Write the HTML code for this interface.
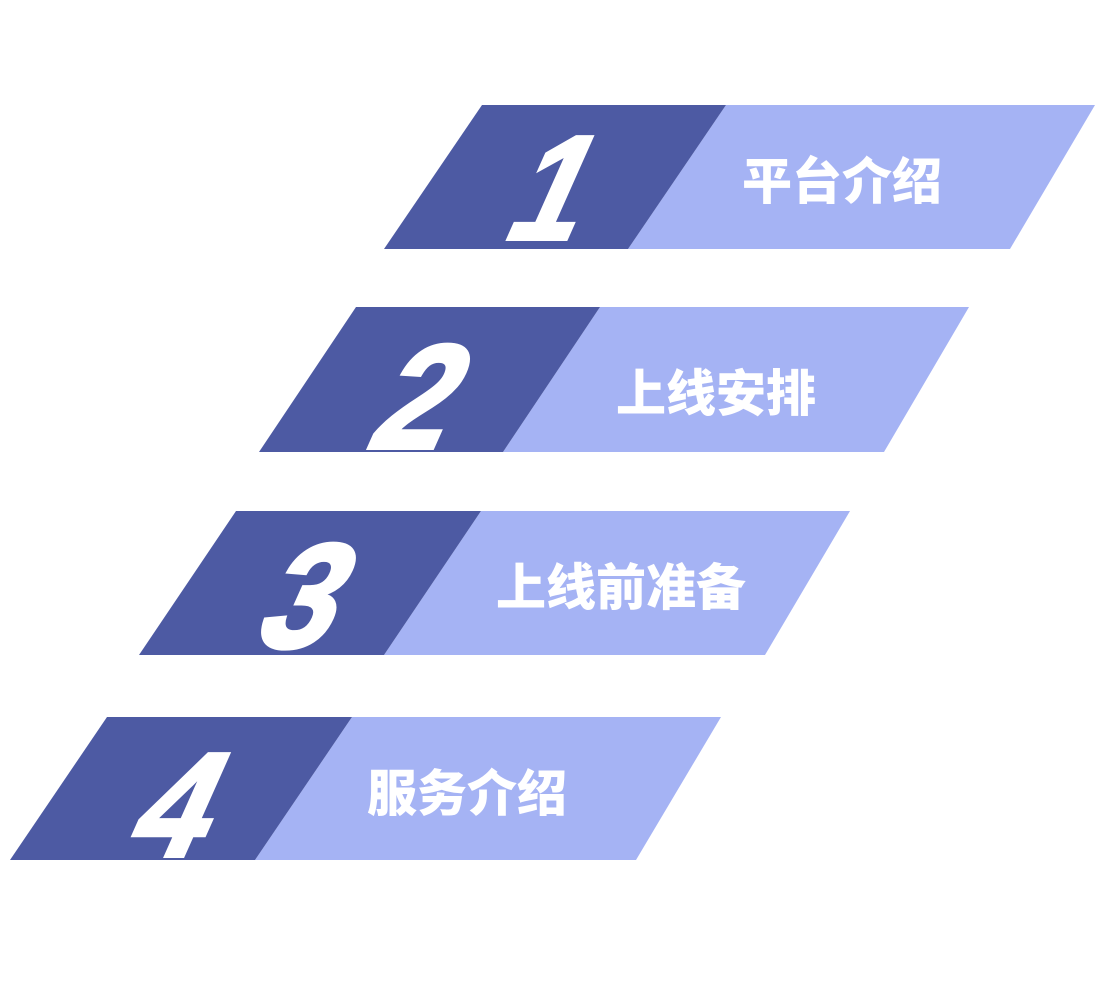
<!DOCTYPE html>
<html><head><meta charset="utf-8"><style>
html,body{margin:0;padding:0;background:#fff;}
svg{display:block;}
.n{font-family:"Liberation Sans",sans-serif;font-weight:bold;font-size:148px;fill:#fff;stroke:#fff;stroke-width:4;}
.t{font-family:"Liberation Sans","Noto Sans CJK SC",sans-serif;font-weight:900;font-size:50px;fill:#fff;text-anchor:middle;}
</style></head><body>
<svg width="1095" height="994" viewBox="0 0 1095 994" xmlns="http://www.w3.org/2000/svg">
<g fill="#a5b3f4">
<polygon points="726,105 1095,105 1010,249 628,249"/>
<polygon points="600,307 969,307 884,452 503,452"/>
<polygon points="481,511 850,511 765,655 384,655"/>
<polygon points="352,717 721,717 636,860 255,860"/>
</g>
<g fill="#4d5aa3">
<polygon points="384,249 482,105 726,105 628,249"/>
<polygon points="259,452 356,307 600,307 503,452"/>
<polygon points="139,655 236,511 481,511 384,655"/>
<polygon points="10,860 107,717 352,717 255,860"/>
</g>
<g class="n">
<text transform="translate(500,239) skewX(-24) scale(0.85,1)">1</text>
<text transform="translate(364,448) skewX(-24) scale(0.9,1)">2</text>
<text transform="translate(250,647) skewX(-24) scale(0.9,1)">3</text>
<text transform="translate(122,856) skewX(-24) scale(0.9,1)">4</text>
</g>
<text class="t" x="842" y="199">平台介绍</text>
<text class="t" x="716" y="411">上线安排</text>
<text class="t" x="621" y="605">上线前准备</text>
<text class="t" x="467" y="811">服务介绍</text>
</svg>
</body></html>
